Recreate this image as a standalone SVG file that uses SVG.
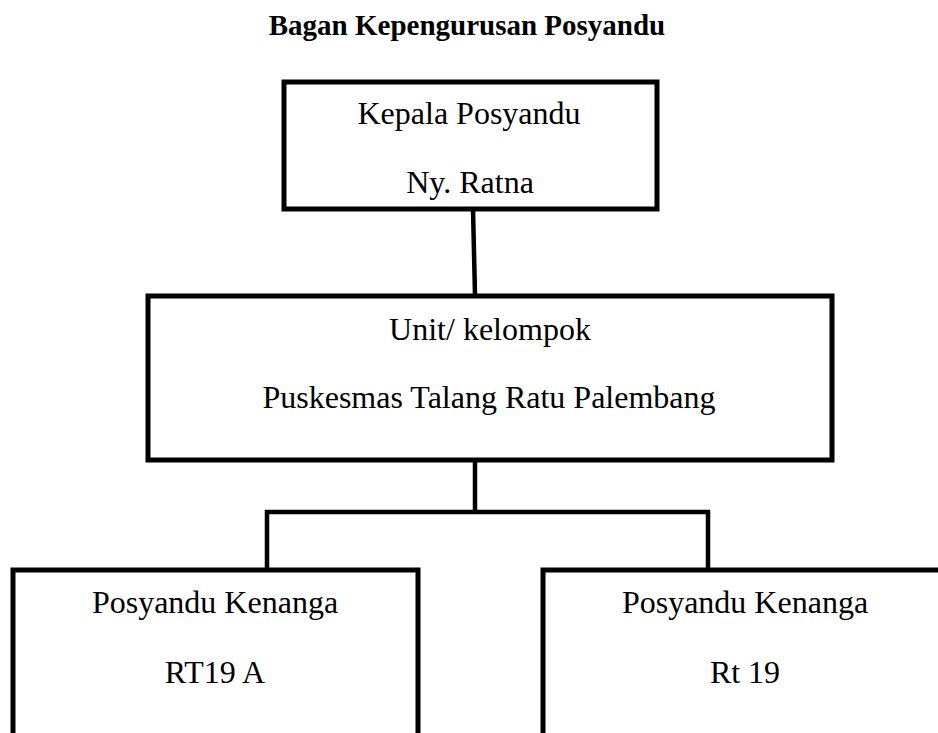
<svg xmlns="http://www.w3.org/2000/svg" width="938" height="733" viewBox="0 0 938 733">
<style>
.box{fill:#fff;stroke:#000;stroke-width:5;stroke-linejoin:miter}
.t{font-family:"Liberation Serif","Times New Roman",serif;font-size:32px;fill:#000;text-anchor:middle}
.title{font-family:"Liberation Serif","Times New Roman",serif;font-size:29px;font-weight:bold;fill:#000;text-anchor:middle}
.c{stroke:#000;stroke-width:4.5;fill:none}
</style>
<rect width="938" height="733" fill="#fff"/>
<text class="title" x="467" y="35">Bagan Kepengurusan Posyandu</text>
<g id="connectors">
<line class="c" x1="473" y1="209" x2="475" y2="295"/>
<line class="c" x1="475" y1="460" x2="475" y2="512"/>
<polyline class="c" points="267,570 267,512 708,512 708,570"/>
</g>
<g id="kepala">
<rect class="box" x="284" y="82" width="373" height="127"/>
<text class="t" x="469" y="124">Kepala Posyandu</text>
<text class="t" x="470" y="193">Ny. Ratna</text>
</g>
<g id="unit">
<rect class="box" x="148" y="296" width="684" height="164"/>
<text class="t" x="490" y="340">Unit/ kelompok</text>
<text class="t" x="489" y="408">Puskesmas Talang Ratu Palembang</text>
</g>
<g id="rt19a">
<rect class="box" x="13" y="570" width="405" height="180"/>
<text class="t" x="215" y="613">Posyandu Kenanga</text>
<text class="t" x="215" y="683">RT19 A</text>
</g>
<g id="rt19">
<rect class="box" x="543" y="570" width="420" height="180"/>
<text class="t" x="745" y="613">Posyandu Kenanga</text>
<text class="t" x="745" y="683">Rt 19</text>
</g>
</svg>
